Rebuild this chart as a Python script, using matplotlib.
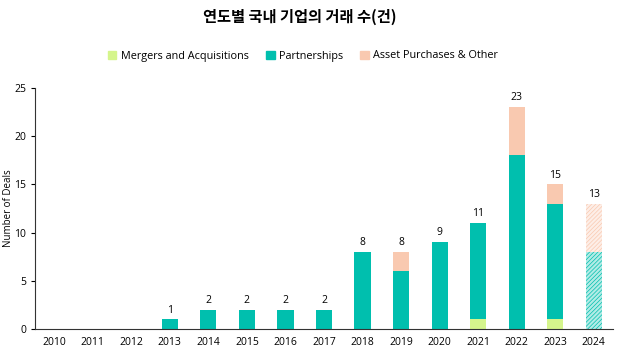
import matplotlib
matplotlib.use("Agg")
import matplotlib.pyplot as plt
import numpy as np
from matplotlib.patches import Patch

years = ["2010","2011","2012","2013","2014","2015","2016","2017","2018","2019","2020","2021","2022","2023","2024"]
mergers = [0,0,0,0,0,0,0,0,0,0,0,1,0,1,0]
partnerships = [0,0,0,1,2,2,2,2,8,6,9,10,18,12,8]
assets = [0,0,0,0,0,0,0,0,0,2,0,0,5,2,5]
projected = [False]*14 + [True]

title = "연도별 국내 기업의 거래 수(건)"
c_ma = "#d5f58c"
c_pa = "#00bfae"
c_as = "#f9c9b0"

plt.rcParams['font.family'] = ['Open Sans', 'DejaVu Sans']
plt.rcParams['hatch.linewidth'] = 0.5
fig = plt.figure(figsize=(6.19, 3.64), dpi=100)
ax = fig.add_axes([35/619, 1-329/364, 578/619, 241/364])

x = np.arange(len(years))
w = 0.42
ma = np.array(mergers); pa = np.array(partnerships); aa = np.array(assets)
for i in range(len(years)):
    segs = [(ma[i], 0, c_ma), (pa[i], ma[i], c_pa), (aa[i], ma[i]+pa[i], c_as)]
    for h, b, c in segs:
        if h <= 0:
            continue
        if projected[i]:
            ax.bar(x[i], h, w, bottom=b, color=c, alpha=0.3, linewidth=0)
            ax.bar(x[i], h, w, bottom=b, facecolor='none', edgecolor=c, hatch='////////', linewidth=0)
        else:
            ax.bar(x[i], h, w, bottom=b, color=c, linewidth=0)
    tot = ma[i]+pa[i]+aa[i]
    if tot > 0:
        ax.text(x[i], tot+0.4, str(tot), ha='center', va='bottom', fontsize=7.5)

ax.set_xlim(-0.5, len(years)-0.5)
ax.set_ylim(0, 25)
ax.set_yticks([0,5,10,15,20,25])
ax.set_xticks(x)
ax.set_xticklabels(years)
ax.tick_params(axis='x', length=0, labelsize=7.5, pad=6)
ax.tick_params(axis='y', length=3, labelsize=7.5, direction='out')
for s in ['top','right']:
    ax.spines[s].set_visible(False)
ax.spines['left'].set_color('#333333')
ax.spines['bottom'].set_color('#333333')
ax.spines['left'].set_linewidth(0.8)
ax.spines['bottom'].set_linewidth(0.8)
ax.set_ylabel("Number of Deals", fontsize=7)
ax.yaxis.set_label_coords(-21/578, 0.5)

fig.text(300/619, 1-17/364, title, ha='center', va='center', fontsize=11, fontweight='bold',
         family=['Noto Sans CJK KR', 'DejaVu Sans'])
handles = [Patch(color=c_ma, label="Mergers and Acquisitions"),
           Patch(color=c_pa, label="Partnerships"),
           Patch(color=c_as, label="Asset Purchases & Other")]
fig.legend(handles=handles, loc='center', bbox_to_anchor=(303/619, 1-56/364), ncol=3, frameon=False,
           fontsize=7.8, handlelength=0.8, handleheight=0.8, handletextpad=0.4, columnspacing=1.6)
fig.savefig("out.png", dpi=100)
